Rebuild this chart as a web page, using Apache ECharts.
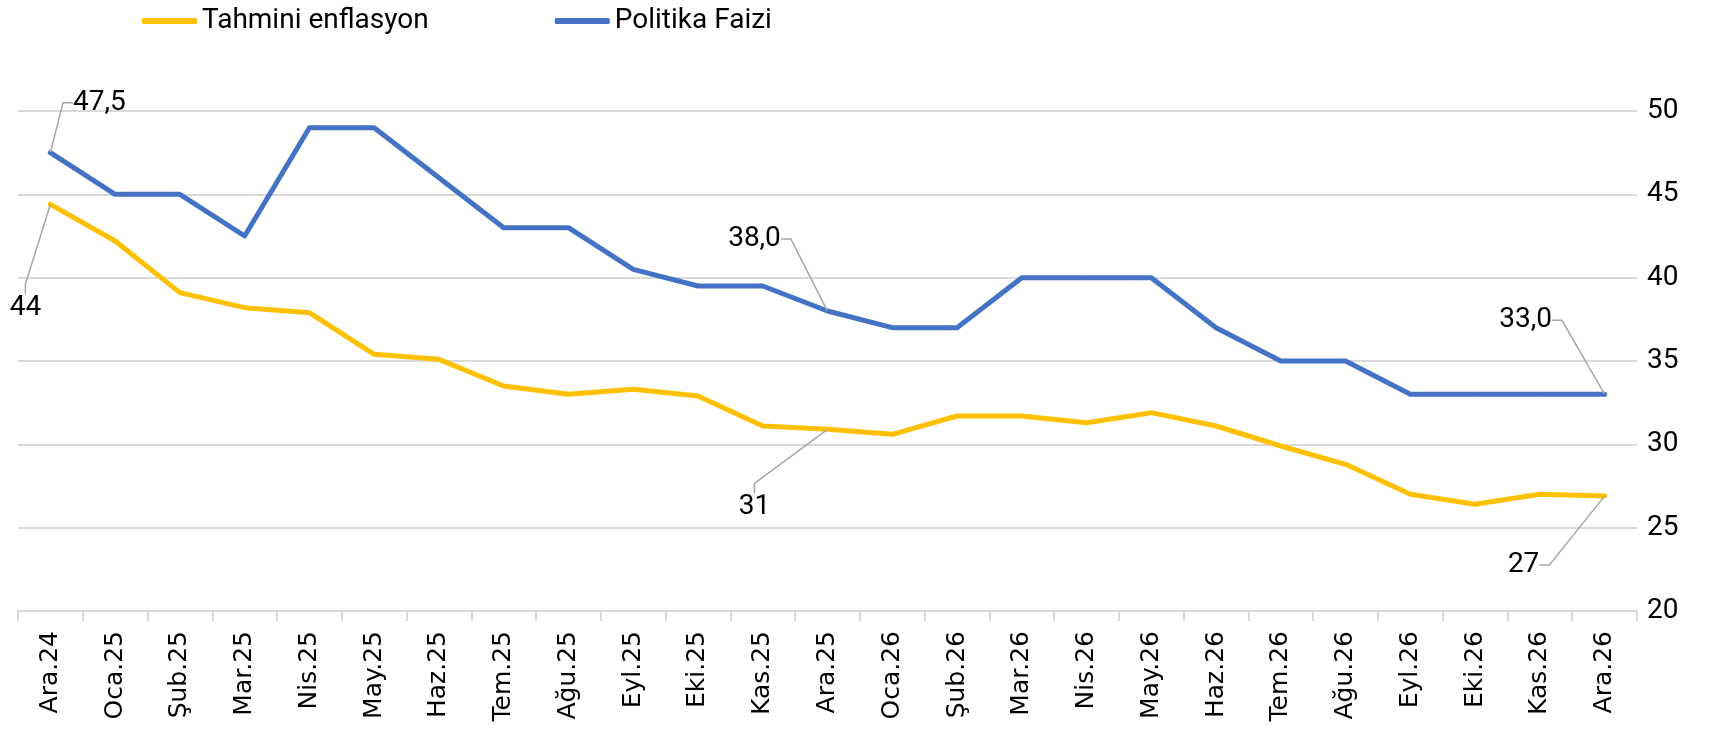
<!DOCTYPE html>
<html>
<head>
<meta charset="utf-8">
<title>Tahmini enflasyon - Politika Faizi</title>
<script src="https://cdn.jsdelivr.net/npm/echarts@6/dist/echarts.min.js"></script>
<style>
	html, body { margin: 0; padding: 0; background: #fff; }
	#chartDiv { width: 1719px; height: 732px; }
</style>
</head>
<body>
<div id="chartDiv"></div>
<script type="text/javascript">
	// veriler
	var months = ['Ara.24', 'Oca.25', 'Şub.25', 'Mar.25', 'Nis.25', 'May.25', 'Haz.25', 'Tem.25', 'Ağu.25',
		'Eyl.25', 'Eki.25', 'Kas.25', 'Ara.25', 'Oca.26', 'Şub.26', 'Mar.26', 'Nis.26', 'May.26', 'Haz.26',
		'Tem.26', 'Ağu.26', 'Eyl.26', 'Eki.26', 'Kas.26', 'Ara.26'];
	var inflation = [44.4, 42.2, 39.1, 38.2, 37.9, 35.4, 35.1, 33.5, 33.0, 33.3, 32.9, 31.1, 30.9,
		30.6, 31.7, 31.7, 31.3, 31.9, 31.1, 29.9, 28.8, 27.0, 26.4, 27.0, 26.9];
	var policyRate = [47.5, 45, 45, 42.5, 49, 49, 46, 43, 43, 40.5, 39.5, 39.5, 38,
		37, 37, 40, 40, 40, 37, 35, 35, 33, 33, 33, 33];
	var labelledPoints = [0, 12, 24];
	var yTicks = [20, 25, 30, 35, 40, 45, 50];

	// etiketlerin noktaya göre kaydırması (seriesIndex -> dataIndex -> [dx, dy])
	var labelShift = {
		0: { 0: [-25, 104], 12: [-73, 78], 24: [-81, 69] },
		1: { 0: [49, -50], 12: [-73, -72], 24: [-79, -74] }
	};

	function buildData(values, fmt) {
		return values.map(function (v, i) {
			if (labelledPoints.indexOf(i) < 0) {
				return v;
			}
			return {
				value: v,
				label: {
					show: true,
					formatter: fmt(v)
				}
			};
		});
	}

	var textFont = 'Roboto';
	var option = {
		animation: false,
		legend: {
			top: 2,
			left: 137,
			icon: 'roundRect',
			itemWidth: 55,
			itemHeight: 6,
			itemGap: 126,
			data: ['Tahmini enflasyon', 'Politika Faizi'],
			textStyle: {
				fontFamily: textFont,
				fontSize: 28,
				color: '#000'
			}
		},
		grid: {
			left: 18,
			right: 82,
			top: 111,
			bottom: 121
		},
		xAxis: {
			type: 'category',
			boundaryGap: true,
			data: months,
			axisLine: { lineStyle: { color: '#d9d9d9', width: 2 } },
			axisTick: { show: true, length: 10, lineStyle: { color: '#d9d9d9', width: 2 } },
			axisLabel: {
				interval: 0,
				rotate: 90,
				margin: 20,
				fontFamily: 'DejaVu Sans',
				fontSize: 25,
				color: '#000'
			}
		},
		yAxis: {
			type: 'value',
			position: 'right',
			min: yTicks[0],
			max: yTicks[yTicks.length - 1],
			interval: yTicks[1] - yTicks[0],
			axisLine: { show: false },
			axisTick: { show: false },
			splitLine: { lineStyle: { color: '#d9d9d9', width: 2 } },
			axisLabel: {
				margin: 10,
				fontFamily: textFont,
				fontSize: 28,
				color: '#000'
			}
		},
		series: [{
			name: 'Tahmini enflasyon',
			type: 'line',
			symbol: 'circle',
			symbolSize: 1,
			showSymbol: true,
			data: buildData(inflation, function (v) { return String(Math.round(v)); }),
			itemStyle: { color: '#FFC000' },
			lineStyle: { color: '#FFC000', width: 5, cap: 'round', join: 'round' },
			label: {
				show: false,
				position: 'inside',
				fontFamily: textFont,
				fontSize: 28,
				color: '#000'
			},
			labelLine: {
				show: true,
				length2: 10,
				lineStyle: { color: '#a6a6a6', width: 1.5 }
			}
		}, {
			name: 'Politika Faizi',
			type: 'line',
			symbol: 'circle',
			symbolSize: 1,
			showSymbol: true,
			data: buildData(policyRate, function (v) { return v.toFixed(1).replace('.', ','); }),
			itemStyle: { color: '#4472C4' },
			lineStyle: { color: '#4472C4', width: 5, cap: 'round', join: 'round' },
			label: {
				show: false,
				position: 'inside',
				fontFamily: textFont,
				fontSize: 28,
				color: '#000'
			},
			labelLine: {
				show: true,
				length2: 10,
				lineStyle: { color: '#a6a6a6', width: 1.5 }
			}
		}],
		labelLayout: function (params) {
			var s = labelShift[params.seriesIndex];
			var d = s && s[params.dataIndex];
			if (!d) {
				return {};
			}
			return { dx: d[0], dy: d[1] };
		}
	};

	var myChart = echarts.init(document.getElementById('chartDiv'));
	myChart.setOption(option);
</script>
</body>
</html>
